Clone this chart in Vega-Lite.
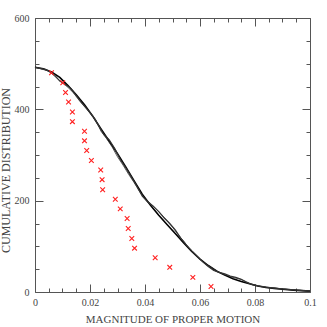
{
  "$schema": "https://vega.github.io/schema/vega-lite/v6.json",
  "width": 275,
  "height": 274,
  "autosize": {"type": "none"},
  "padding": {"left": 35, "top": 18, "right": 17, "bottom": 35},
  "background": "white",
  "config": {
    "view": {"stroke": null},
    "axis": {
      "grid": false,
      "domainColor": "#555",
      "tickColor": "#555",
      "labelFont": "Liberation Serif",
      "labelFontSize": 10,
      "labelColor": "#444",
      "titleFont": "Liberation Serif",
      "titleFontSize": 11,
      "titleFontWeight": "normal",
      "titleColor": "#444",
      "labelFlush": false,
      "labelOverlap": false
    }
  },
  "datasets": {
    "curves": [
      {"series": "smooth", "mu": 0, "n": 492}, {"series": "smooth", "mu": 0.003, "n": 489}, {"series": "smooth", "mu": 0.006, "n": 482}, {"series": "smooth", "mu": 0.009, "n": 470}, {"series": "smooth", "mu": 0.012, "n": 452}, {"series": "smooth", "mu": 0.015, "n": 432}, {"series": "smooth", "mu": 0.018, "n": 410}, {"series": "smooth", "mu": 0.021, "n": 385}, {"series": "smooth", "mu": 0.024, "n": 357}, {"series": "smooth", "mu": 0.027, "n": 330}, {"series": "smooth", "mu": 0.030, "n": 303}, {"series": "smooth", "mu": 0.033, "n": 274}, {"series": "smooth", "mu": 0.036, "n": 244}, {"series": "smooth", "mu": 0.039, "n": 214}, {"series": "smooth", "mu": 0.042, "n": 190}, {"series": "smooth", "mu": 0.045, "n": 168}, {"series": "smooth", "mu": 0.048, "n": 148}, {"series": "smooth", "mu": 0.051, "n": 128}, {"series": "smooth", "mu": 0.054, "n": 108}, {"series": "smooth", "mu": 0.057, "n": 89}, {"series": "smooth", "mu": 0.060, "n": 72}, {"series": "smooth", "mu": 0.063, "n": 58}, {"series": "smooth", "mu": 0.066, "n": 46}, {"series": "smooth", "mu": 0.069, "n": 37}, {"series": "smooth", "mu": 0.072, "n": 29}, {"series": "smooth", "mu": 0.075, "n": 23}, {"series": "smooth", "mu": 0.078, "n": 18}, {"series": "smooth", "mu": 0.081, "n": 13}, {"series": "smooth", "mu": 0.084, "n": 10}, {"series": "smooth", "mu": 0.087, "n": 8}, {"series": "smooth", "mu": 0.090, "n": 6}, {"series": "smooth", "mu": 0.094, "n": 4}, {"series": "smooth", "mu": 0.1, "n": 2},
      {"series": "a", "mu": 0, "n": 492}, {"series": "a", "mu": 0.004, "n": 487}, {"series": "a", "mu": 0.007, "n": 476}, {"series": "a", "mu": 0.009, "n": 462}, {"series": "a", "mu": 0.011, "n": 455}, {"series": "a", "mu": 0.013, "n": 446}, {"series": "a", "mu": 0.015, "n": 430}, {"series": "a", "mu": 0.017, "n": 414}, {"series": "a", "mu": 0.019, "n": 400}, {"series": "a", "mu": 0.021, "n": 385}, {"series": "a", "mu": 0.023, "n": 366}, {"series": "a", "mu": 0.025, "n": 345}, {"series": "a", "mu": 0.027, "n": 333}, {"series": "a", "mu": 0.029, "n": 314}, {"series": "a", "mu": 0.031, "n": 290}, {"series": "a", "mu": 0.033, "n": 272}, {"series": "a", "mu": 0.035, "n": 252}, {"series": "a", "mu": 0.037, "n": 232}, {"series": "a", "mu": 0.039, "n": 210}, {"series": "a", "mu": 0.041, "n": 197}, {"series": "a", "mu": 0.043, "n": 188}, {"series": "a", "mu": 0.045, "n": 176}, {"series": "a", "mu": 0.047, "n": 162}, {"series": "a", "mu": 0.049, "n": 150}, {"series": "a", "mu": 0.051, "n": 136}, {"series": "a", "mu": 0.053, "n": 118}, {"series": "a", "mu": 0.055, "n": 103}, {"series": "a", "mu": 0.057, "n": 90}, {"series": "a", "mu": 0.059, "n": 78}, {"series": "a", "mu": 0.061, "n": 66}, {"series": "a", "mu": 0.063, "n": 56}, {"series": "a", "mu": 0.065, "n": 47}, {"series": "a", "mu": 0.067, "n": 43}, {"series": "a", "mu": 0.069, "n": 40}, {"series": "a", "mu": 0.071, "n": 35}, {"series": "a", "mu": 0.073, "n": 32}, {"series": "a", "mu": 0.075, "n": 28}, {"series": "a", "mu": 0.077, "n": 21}, {"series": "a", "mu": 0.079, "n": 16}, {"series": "a", "mu": 0.082, "n": 12}, {"series": "a", "mu": 0.086, "n": 9}, {"series": "a", "mu": 0.090, "n": 7}, {"series": "a", "mu": 0.095, "n": 4}, {"series": "a", "mu": 0.1, "n": 2},
      {"series": "b", "mu": 0, "n": 492}, {"series": "b", "mu": 0.005, "n": 484}, {"series": "b", "mu": 0.008, "n": 468}, {"series": "b", "mu": 0.010, "n": 458}, {"series": "b", "mu": 0.012, "n": 448}, {"series": "b", "mu": 0.014, "n": 436}, {"series": "b", "mu": 0.016, "n": 420}, {"series": "b", "mu": 0.018, "n": 406}, {"series": "b", "mu": 0.020, "n": 393}, {"series": "b", "mu": 0.022, "n": 378}, {"series": "b", "mu": 0.024, "n": 352}, {"series": "b", "mu": 0.026, "n": 336}, {"series": "b", "mu": 0.028, "n": 318}, {"series": "b", "mu": 0.030, "n": 296}, {"series": "b", "mu": 0.032, "n": 278}, {"series": "b", "mu": 0.034, "n": 258}, {"series": "b", "mu": 0.036, "n": 240}, {"series": "b", "mu": 0.038, "n": 220}, {"series": "b", "mu": 0.040, "n": 204}, {"series": "b", "mu": 0.042, "n": 194}, {"series": "b", "mu": 0.044, "n": 182}, {"series": "b", "mu": 0.046, "n": 170}, {"series": "b", "mu": 0.048, "n": 156}, {"series": "b", "mu": 0.050, "n": 142}, {"series": "b", "mu": 0.052, "n": 126}, {"series": "b", "mu": 0.054, "n": 112}, {"series": "b", "mu": 0.056, "n": 96}, {"series": "b", "mu": 0.058, "n": 84}, {"series": "b", "mu": 0.060, "n": 72}, {"series": "b", "mu": 0.062, "n": 61}, {"series": "b", "mu": 0.064, "n": 54}, {"series": "b", "mu": 0.066, "n": 46}, {"series": "b", "mu": 0.068, "n": 40}, {"series": "b", "mu": 0.070, "n": 36}, {"series": "b", "mu": 0.072, "n": 32}, {"series": "b", "mu": 0.074, "n": 29}, {"series": "b", "mu": 0.076, "n": 25}, {"series": "b", "mu": 0.078, "n": 19}, {"series": "b", "mu": 0.080, "n": 15}, {"series": "b", "mu": 0.084, "n": 11}, {"series": "b", "mu": 0.088, "n": 8}, {"series": "b", "mu": 0.092, "n": 6}, {"series": "b", "mu": 0.096, "n": 4}, {"series": "b", "mu": 0.1, "n": 2}
    ],
    "crosses": [
      {"mu": 0.0060, "n": 480}, {"mu": 0.0101, "n": 458}, {"mu": 0.0111, "n": 437}, {"mu": 0.0122, "n": 416}, {"mu": 0.0136, "n": 394}, {"mu": 0.0136, "n": 373}, {"mu": 0.0180, "n": 352}, {"mu": 0.0180, "n": 331}, {"mu": 0.0188, "n": 310}, {"mu": 0.0205, "n": 288}, {"mu": 0.0239, "n": 267}, {"mu": 0.0244, "n": 246}, {"mu": 0.0246, "n": 224}, {"mu": 0.0292, "n": 203}, {"mu": 0.0310, "n": 182}, {"mu": 0.0335, "n": 161}, {"mu": 0.0339, "n": 139}, {"mu": 0.0352, "n": 117}, {"mu": 0.0362, "n": 96}, {"mu": 0.0437, "n": 75}, {"mu": 0.0490, "n": 54}, {"mu": 0.0574, "n": 32}, {"mu": 0.0640, "n": 12}
    ]
  },
  "resolve": {"axis": {"x": "independent", "y": "independent"}},
  "layer": [
    {
      "data": {"name": "curves"},
      "mark": {"type": "line", "interpolate": "linear"},
      "encoding": {
        "x": {
          "field": "mu", "type": "quantitative",
          "scale": {"domain": [0, 0.1], "nice": false, "zero": false},
          "axis": {
            "orient": "bottom",
            "title": "MAGNITUDE OF PROPER MOTION",
            "values": [0, 0.005, 0.01, 0.015, 0.02, 0.025, 0.03, 0.035, 0.04, 0.045, 0.05, 0.055, 0.06, 0.065, 0.07, 0.075, 0.08, 0.085, 0.09, 0.095, 0.1],
            "tickSize": {"condition": {"test": "abs(datum.value*50 - round(datum.value*50)) < 0.001", "value": -8}, "value": -4},
            "labelExpr": "abs(datum.value*50 - round(datum.value*50)) < 0.001 ? format(datum.value, '~g') : ''",
            "labelPadding": 13,
            "titlePadding": 2
          }
        },
        "y": {
          "field": "n", "type": "quantitative",
          "scale": {"domain": [0, 600], "nice": false},
          "axis": {
            "orient": "left",
            "title": "CUMULATIVE DISTRIBUTION",
            "titleFontSize": 12,
            "titleY": 152,
            "values": [0, 50, 100, 150, 200, 250, 300, 350, 400, 450, 500, 550, 600],
            "tickSize": {"condition": {"test": "datum.value % 200 == 0", "value": -8}, "value": -4},
            "labelExpr": "datum.value % 200 == 0 ? format(datum.value, 'd') : ''",
            "labelPadding": 14,
            "titlePadding": 2
          }
        },
        "color": {"field": "series", "type": "nominal", "scale": {"domain": ["smooth", "a", "b"], "range": ["#000000", "#333333", "#333333"]}, "legend": null},
        "strokeWidth": {"field": "series", "type": "nominal", "scale": {"domain": ["smooth", "a", "b"], "range": [1.6, 0.8, 0.8]}, "legend": null}
      }
    },
    {
      "data": {"name": "crosses"},
      "mark": {"type": "point", "shape": "M-1,-1L1,1M-1,1L1,-1", "filled": false, "stroke": "#ff2020", "strokeWidth": 1.1, "size": 22, "opacity": 1},
      "encoding": {
        "x": {
          "field": "mu", "type": "quantitative",
          "axis": {
            "orient": "top", "title": null, "labels": false,
            "values": [0, 0.005, 0.01, 0.015, 0.02, 0.025, 0.03, 0.035, 0.04, 0.045, 0.05, 0.055, 0.06, 0.065, 0.07, 0.075, 0.08, 0.085, 0.09, 0.095, 0.1],
            "tickSize": {"condition": {"test": "abs(datum.value*50 - round(datum.value*50)) < 0.001", "value": -8}, "value": -4}
          }
        },
        "y": {
          "field": "n", "type": "quantitative",
          "axis": {
            "orient": "right", "title": null, "labels": false,
            "values": [0, 50, 100, 150, 200, 250, 300, 350, 400, 450, 500, 550, 600],
            "tickSize": {"condition": {"test": "datum.value % 200 == 0", "value": -8}, "value": -4}
          }
        }
      }
    }
  ]
}
